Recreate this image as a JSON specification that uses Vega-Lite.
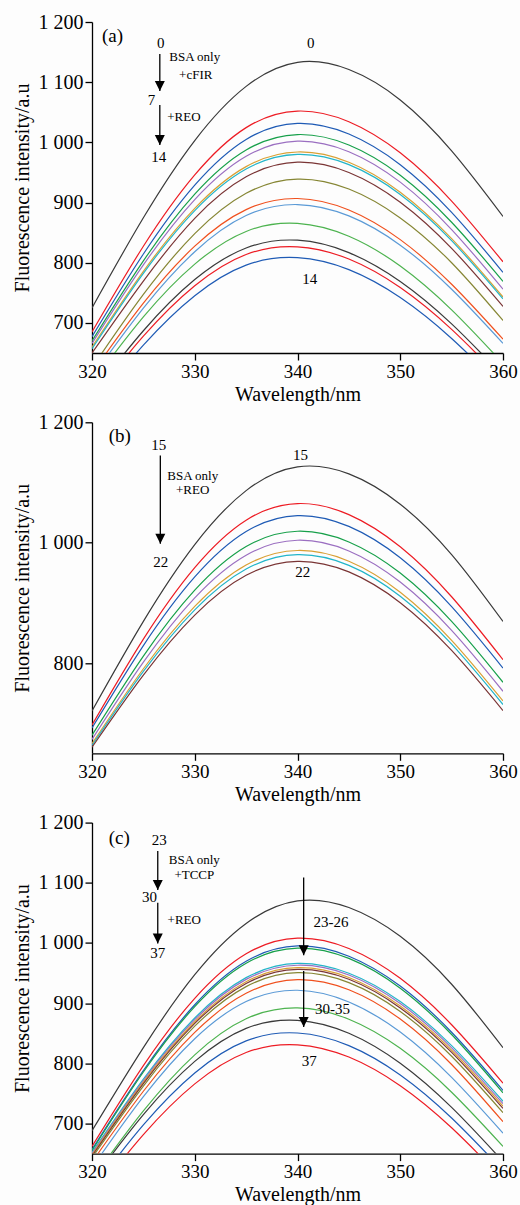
{
"$schema":"https://vega.github.io/schema/vega-lite/v6.json",
"background":"#fdfdfd",
"padding":{"left":12,"top":12,"right":2,"bottom":2},
"config":{"font":"Liberation Serif","view":{"stroke":null},
"axis":{"domainColor":"#000","domainWidth":1.3,"tickColor":"#000","tickWidth":1.3,"tickSize":7,"labelFont":"Liberation Serif","labelFontSize":19,"labelColor":"#000","labelPadding":2,"labelFlush":false,"labelOverlap":false,"titleFont":"Liberation Serif","titleFontSize":20,"titleFontWeight":"normal","titleColor":"#000","grid":false},
"axisY":{"labelFontSize":20},
"text":{"font":"Liberation Serif","color":"#000","align":"center","baseline":"middle"}},
"datasets":{
"spectra":[
{"panel":"a","curve":0,"wavelength":320,"intensity":725},{"panel":"a","curve":0,"wavelength":325,"intensity":874.7},{"panel":"a","curve":0,"wavelength":330,"intensity":1003},{"panel":"a","curve":0,"wavelength":335,"intensity":1093},{"panel":"a","curve":0,"wavelength":340,"intensity":1133},{"panel":"a","curve":0,"wavelength":345,"intensity":1121},{"panel":"a","curve":0,"wavelength":350,"intensity":1070.5},{"panel":"a","curve":0,"wavelength":355,"intensity":986},{"panel":"a","curve":0,"wavelength":360,"intensity":877},
{"panel":"a","curve":1,"wavelength":320,"intensity":685},{"panel":"a","curve":1,"wavelength":325,"intensity":827.4},{"panel":"a","curve":1,"wavelength":330,"intensity":945.9},{"panel":"a","curve":1,"wavelength":335,"intensity":1024.5},{"panel":"a","curve":1,"wavelength":340,"intensity":1052},{"panel":"a","curve":1,"wavelength":345,"intensity":1034.2},{"panel":"a","curve":1,"wavelength":350,"intensity":982.6},{"panel":"a","curve":1,"wavelength":355,"intensity":902.5},{"panel":"a","curve":1,"wavelength":360,"intensity":801.5},
{"panel":"a","curve":2,"wavelength":320,"intensity":677},{"panel":"a","curve":2,"wavelength":325,"intensity":814.5},{"panel":"a","curve":2,"wavelength":330,"intensity":929},{"panel":"a","curve":2,"wavelength":335,"intensity":1004.9},{"panel":"a","curve":2,"wavelength":340,"intensity":1031.5},{"panel":"a","curve":2,"wavelength":345,"intensity":1013.9},{"panel":"a","curve":2,"wavelength":350,"intensity":962.9},{"panel":"a","curve":2,"wavelength":355,"intensity":883.7},{"panel":"a","curve":2,"wavelength":360,"intensity":784},
{"panel":"a","curve":3,"wavelength":320,"intensity":670},{"panel":"a","curve":3,"wavelength":325,"intensity":803.1},{"panel":"a","curve":3,"wavelength":330,"intensity":913.9},{"panel":"a","curve":3,"wavelength":335,"intensity":987.3},{"panel":"a","curve":3,"wavelength":340,"intensity":1013},{"panel":"a","curve":3,"wavelength":345,"intensity":995.7},{"panel":"a","curve":3,"wavelength":350,"intensity":945.4},{"panel":"a","curve":3,"wavelength":355,"intensity":867.3},{"panel":"a","curve":3,"wavelength":360,"intensity":769},
{"panel":"a","curve":4,"wavelength":320,"intensity":666},{"panel":"a","curve":4,"wavelength":325,"intensity":796.4},{"panel":"a","curve":4,"wavelength":330,"intensity":904.9},{"panel":"a","curve":4,"wavelength":335,"intensity":976.8},{"panel":"a","curve":4,"wavelength":340,"intensity":1002},{"panel":"a","curve":4,"wavelength":345,"intensity":984.5},{"panel":"a","curve":4,"wavelength":350,"intensity":933.9},{"panel":"a","curve":4,"wavelength":355,"intensity":855.1},{"panel":"a","curve":4,"wavelength":360,"intensity":756},
{"panel":"a","curve":5,"wavelength":320,"intensity":660},{"panel":"a","curve":5,"wavelength":325,"intensity":785.7},{"panel":"a","curve":5,"wavelength":330,"intensity":890.4},{"panel":"a","curve":5,"wavelength":335,"intensity":959.7},{"panel":"a","curve":5,"wavelength":340,"intensity":984},{"panel":"a","curve":5,"wavelength":345,"intensity":966.9},{"panel":"a","curve":5,"wavelength":350,"intensity":917.2},{"panel":"a","curve":5,"wavelength":355,"intensity":840.1},{"panel":"a","curve":5,"wavelength":360,"intensity":743},
{"panel":"a","curve":6,"wavelength":320,"intensity":657},{"panel":"a","curve":6,"wavelength":325,"intensity":782.3},{"panel":"a","curve":6,"wavelength":330,"intensity":886.7},{"panel":"a","curve":6,"wavelength":335,"intensity":955.8},{"panel":"a","curve":6,"wavelength":340,"intensity":980},{"panel":"a","curve":6,"wavelength":345,"intensity":963},{"panel":"a","curve":6,"wavelength":350,"intensity":913.5},{"panel":"a","curve":6,"wavelength":355,"intensity":836.7},{"panel":"a","curve":6,"wavelength":360,"intensity":740},
{"panel":"a","curve":7,"wavelength":320,"intensity":650},{"panel":"a","curve":7,"wavelength":325,"intensity":769.6},{"panel":"a","curve":7,"wavelength":330,"intensity":873.7},{"panel":"a","curve":7,"wavelength":335,"intensity":942.7},{"panel":"a","curve":7,"wavelength":340,"intensity":967},{"panel":"a","curve":7,"wavelength":345,"intensity":950},{"panel":"a","curve":7,"wavelength":350,"intensity":900.6},{"panel":"a","curve":7,"wavelength":355,"intensity":823.9},{"panel":"a","curve":7,"wavelength":360,"intensity":727.4},
{"panel":"a","curve":8,"wavelength":320,"intensity":625.7},{"panel":"a","curve":8,"wavelength":325,"intensity":747.3},{"panel":"a","curve":8,"wavelength":330,"intensity":848.4},{"panel":"a","curve":8,"wavelength":335,"intensity":915.4},{"panel":"a","curve":8,"wavelength":340,"intensity":939},{"panel":"a","curve":8,"wavelength":345,"intensity":922.5},{"panel":"a","curve":8,"wavelength":350,"intensity":874.5},{"panel":"a","curve":8,"wavelength":355,"intensity":800},{"panel":"a","curve":8,"wavelength":360,"intensity":704},
{"panel":"a","curve":9,"wavelength":320,"intensity":616.7},{"panel":"a","curve":9,"wavelength":325,"intensity":732.7},{"panel":"a","curve":9,"wavelength":330,"intensity":827.5},{"panel":"a","curve":9,"wavelength":335,"intensity":888.3},{"panel":"a","curve":9,"wavelength":340,"intensity":906.7},{"panel":"a","curve":9,"wavelength":345,"intensity":887.6},{"panel":"a","curve":9,"wavelength":350,"intensity":838.4},{"panel":"a","curve":9,"wavelength":355,"intensity":764.3},{"panel":"a","curve":9,"wavelength":360,"intensity":673},
{"panel":"a","curve":10,"wavelength":320,"intensity":609.9},{"panel":"a","curve":10,"wavelength":325,"intensity":724.6},{"panel":"a","curve":10,"wavelength":330,"intensity":818.3},{"panel":"a","curve":10,"wavelength":335,"intensity":878.5},{"panel":"a","curve":10,"wavelength":340,"intensity":896.7},{"panel":"a","curve":10,"wavelength":345,"intensity":877.8},{"panel":"a","curve":10,"wavelength":350,"intensity":829.2},{"panel":"a","curve":10,"wavelength":355,"intensity":755.9},{"panel":"a","curve":10,"wavelength":360,"intensity":666},
{"panel":"a","curve":11,"wavelength":320,"intensity":600},{"panel":"a","curve":11,"wavelength":325,"intensity":710},{"panel":"a","curve":11,"wavelength":330,"intensity":797.7},{"panel":"a","curve":11,"wavelength":335,"intensity":852},{"panel":"a","curve":11,"wavelength":340,"intensity":865.4},{"panel":"a","curve":11,"wavelength":345,"intensity":844},{"panel":"a","curve":11,"wavelength":350,"intensity":794.5},{"panel":"a","curve":11,"wavelength":355,"intensity":721.7},{"panel":"a","curve":11,"wavelength":360,"intensity":632.6},
{"panel":"a","curve":12,"wavelength":320,"intensity":581},{"panel":"a","curve":12,"wavelength":325,"intensity":687},{"panel":"a","curve":12,"wavelength":330,"intensity":772},{"panel":"a","curve":12,"wavelength":335,"intensity":824.5},{"panel":"a","curve":12,"wavelength":340,"intensity":837.4},{"panel":"a","curve":12,"wavelength":345,"intensity":816.8},{"panel":"a","curve":12,"wavelength":350,"intensity":768.8},{"panel":"a","curve":12,"wavelength":355,"intensity":698.4},{"panel":"a","curve":12,"wavelength":360,"intensity":612},
{"panel":"a","curve":13,"wavelength":320,"intensity":573.4},{"panel":"a","curve":13,"wavelength":325,"intensity":677.9},{"panel":"a","curve":13,"wavelength":330,"intensity":761.7},{"panel":"a","curve":13,"wavelength":335,"intensity":813.7},{"panel":"a","curve":13,"wavelength":340,"intensity":826.4},{"panel":"a","curve":13,"wavelength":345,"intensity":806.1},{"panel":"a","curve":13,"wavelength":350,"intensity":758.7},{"panel":"a","curve":13,"wavelength":355,"intensity":689.2},{"panel":"a","curve":13,"wavelength":360,"intensity":604.1},
{"panel":"a","curve":14,"wavelength":320,"intensity":560.9},{"panel":"a","curve":14,"wavelength":325,"intensity":663.1},{"panel":"a","curve":14,"wavelength":330,"intensity":745.2},{"panel":"a","curve":14,"wavelength":335,"intensity":796},{"panel":"a","curve":14,"wavelength":340,"intensity":808.4},{"panel":"a","curve":14,"wavelength":345,"intensity":788.5},{"panel":"a","curve":14,"wavelength":350,"intensity":742.2},{"panel":"a","curve":14,"wavelength":355,"intensity":674.2},{"panel":"a","curve":14,"wavelength":360,"intensity":591},
{"panel":"b","curve":15,"wavelength":320,"intensity":720.5},{"panel":"b","curve":15,"wavelength":325,"intensity":869.3},{"panel":"b","curve":15,"wavelength":330,"intensity":996.8},{"panel":"b","curve":15,"wavelength":335,"intensity":1086.5},{"panel":"b","curve":15,"wavelength":340,"intensity":1125.9},{"panel":"b","curve":15,"wavelength":345,"intensity":1114.3},{"panel":"b","curve":15,"wavelength":350,"intensity":1063.9},{"panel":"b","curve":15,"wavelength":355,"intensity":980.2},{"panel":"b","curve":15,"wavelength":360,"intensity":869},
{"panel":"b","curve":16,"wavelength":320,"intensity":697},{"panel":"b","curve":16,"wavelength":325,"intensity":839.8},{"panel":"b","curve":16,"wavelength":330,"intensity":958.6},{"panel":"b","curve":16,"wavelength":335,"intensity":1037.4},{"panel":"b","curve":16,"wavelength":340,"intensity":1065},{"panel":"b","curve":16,"wavelength":345,"intensity":1046.6},{"panel":"b","curve":16,"wavelength":350,"intensity":993.1},{"panel":"b","curve":16,"wavelength":355,"intensity":910.1},{"panel":"b","curve":16,"wavelength":360,"intensity":805.5},
{"panel":"b","curve":17,"wavelength":320,"intensity":692},{"panel":"b","curve":17,"wavelength":325,"intensity":829},{"panel":"b","curve":17,"wavelength":330,"intensity":943},{"panel":"b","curve":17,"wavelength":335,"intensity":1018.5},{"panel":"b","curve":17,"wavelength":340,"intensity":1045},{"panel":"b","curve":17,"wavelength":345,"intensity":1027},{"panel":"b","curve":17,"wavelength":350,"intensity":974.8},{"panel":"b","curve":17,"wavelength":355,"intensity":893.7},{"panel":"b","curve":17,"wavelength":360,"intensity":791.6},
{"panel":"b","curve":18,"wavelength":320,"intensity":680},{"panel":"b","curve":18,"wavelength":325,"intensity":811.5},{"panel":"b","curve":18,"wavelength":330,"intensity":921},{"panel":"b","curve":18,"wavelength":335,"intensity":993.6},{"panel":"b","curve":18,"wavelength":340,"intensity":1019},{"panel":"b","curve":18,"wavelength":345,"intensity":1001.2},{"panel":"b","curve":18,"wavelength":350,"intensity":949.5},{"panel":"b","curve":18,"wavelength":355,"intensity":869.2},{"panel":"b","curve":18,"wavelength":360,"intensity":768},
{"panel":"b","curve":19,"wavelength":320,"intensity":673},{"panel":"b","curve":19,"wavelength":325,"intensity":801.4},{"panel":"b","curve":19,"wavelength":330,"intensity":908.3},{"panel":"b","curve":19,"wavelength":335,"intensity":979.2},{"panel":"b","curve":19,"wavelength":340,"intensity":1004},{"panel":"b","curve":19,"wavelength":345,"intensity":986.2},{"panel":"b","curve":19,"wavelength":350,"intensity":934.5},{"panel":"b","curve":19,"wavelength":355,"intensity":854.2},{"panel":"b","curve":19,"wavelength":360,"intensity":753},
{"panel":"b","curve":20,"wavelength":320,"intensity":666},{"panel":"b","curve":20,"wavelength":325,"intensity":790.5},{"panel":"b","curve":20,"wavelength":330,"intensity":894.2},{"panel":"b","curve":20,"wavelength":335,"intensity":962.9},{"panel":"b","curve":20,"wavelength":340,"intensity":987},{"panel":"b","curve":20,"wavelength":345,"intensity":969.2},{"panel":"b","curve":20,"wavelength":350,"intensity":917.7},{"panel":"b","curve":20,"wavelength":355,"intensity":837.7},{"panel":"b","curve":20,"wavelength":360,"intensity":737},
{"panel":"b","curve":21,"wavelength":320,"intensity":663},{"panel":"b","curve":21,"wavelength":325,"intensity":786},{"panel":"b","curve":21,"wavelength":330,"intensity":888.4},{"panel":"b","curve":21,"wavelength":335,"intensity":956.2},{"panel":"b","curve":21,"wavelength":340,"intensity":980},{"panel":"b","curve":21,"wavelength":345,"intensity":962.3},{"panel":"b","curve":21,"wavelength":350,"intensity":911},{"panel":"b","curve":21,"wavelength":355,"intensity":831.3},{"panel":"b","curve":21,"wavelength":360,"intensity":731},
{"panel":"b","curve":22,"wavelength":320,"intensity":660},{"panel":"b","curve":22,"wavelength":325,"intensity":779.9},{"panel":"b","curve":22,"wavelength":330,"intensity":879.7},{"panel":"b","curve":22,"wavelength":335,"intensity":945.8},{"panel":"b","curve":22,"wavelength":340,"intensity":969},{"panel":"b","curve":22,"wavelength":345,"intensity":951.4},{"panel":"b","curve":22,"wavelength":350,"intensity":900.3},{"panel":"b","curve":22,"wavelength":355,"intensity":820.9},{"panel":"b","curve":22,"wavelength":360,"intensity":721},
{"panel":"c","curve":23,"wavelength":320,"intensity":688},{"panel":"c","curve":23,"wavelength":325,"intensity":826.1},{"panel":"c","curve":23,"wavelength":330,"intensity":947.3},{"panel":"c","curve":23,"wavelength":335,"intensity":1032.5},{"panel":"c","curve":23,"wavelength":340,"intensity":1069.9},{"panel":"c","curve":23,"wavelength":345,"intensity":1058.9},{"panel":"c","curve":23,"wavelength":350,"intensity":1011},{"panel":"c","curve":23,"wavelength":355,"intensity":931.4},{"panel":"c","curve":23,"wavelength":360,"intensity":826},
{"panel":"c","curve":24,"wavelength":320,"intensity":662},{"panel":"c","curve":24,"wavelength":325,"intensity":796.2},{"panel":"c","curve":24,"wavelength":330,"intensity":908},{"panel":"c","curve":24,"wavelength":335,"intensity":982},{"panel":"c","curve":24,"wavelength":340,"intensity":1008},{"panel":"c","curve":24,"wavelength":345,"intensity":990.9},{"panel":"c","curve":24,"wavelength":350,"intensity":941.2},{"panel":"c","curve":24,"wavelength":355,"intensity":864.1},{"panel":"c","curve":24,"wavelength":360,"intensity":767},
{"panel":"c","curve":25,"wavelength":320,"intensity":657},{"panel":"c","curve":25,"wavelength":325,"intensity":788.1},{"panel":"c","curve":25,"wavelength":330,"intensity":897.3},{"panel":"c","curve":25,"wavelength":335,"intensity":969.6},{"panel":"c","curve":25,"wavelength":340,"intensity":995},{"panel":"c","curve":25,"wavelength":345,"intensity":978},{"panel":"c","curve":25,"wavelength":350,"intensity":928.5},{"panel":"c","curve":25,"wavelength":355,"intensity":851.7},{"panel":"c","curve":25,"wavelength":360,"intensity":755},
{"panel":"c","curve":26,"wavelength":320,"intensity":655},{"panel":"c","curve":26,"wavelength":325,"intensity":785.6},{"panel":"c","curve":26,"wavelength":330,"intensity":894.3},{"panel":"c","curve":26,"wavelength":335,"intensity":966.3},{"panel":"c","curve":26,"wavelength":340,"intensity":991.5},{"panel":"c","curve":26,"wavelength":345,"intensity":974.4},{"panel":"c","curve":26,"wavelength":350,"intensity":924.9},{"panel":"c","curve":26,"wavelength":355,"intensity":847.9},{"panel":"c","curve":26,"wavelength":360,"intensity":751},
{"panel":"c","curve":27,"wavelength":320,"intensity":652},{"panel":"c","curve":27,"wavelength":325,"intensity":773.8},{"panel":"c","curve":27,"wavelength":330,"intensity":875.3},{"panel":"c","curve":27,"wavelength":335,"intensity":942.4},{"panel":"c","curve":27,"wavelength":340,"intensity":966},{"panel":"c","curve":27,"wavelength":345,"intensity":949.7},{"panel":"c","curve":27,"wavelength":350,"intensity":902.6},{"panel":"c","curve":27,"wavelength":355,"intensity":829.3},{"panel":"c","curve":27,"wavelength":360,"intensity":737},
{"panel":"c","curve":28,"wavelength":320,"intensity":650},{"panel":"c","curve":28,"wavelength":325,"intensity":771.4},{"panel":"c","curve":28,"wavelength":330,"intensity":872.5},{"panel":"c","curve":28,"wavelength":335,"intensity":939.5},{"panel":"c","curve":28,"wavelength":340,"intensity":963},{"panel":"c","curve":28,"wavelength":345,"intensity":946.7},{"panel":"c","curve":28,"wavelength":350,"intensity":899.3},{"panel":"c","curve":28,"wavelength":355,"intensity":825.7},{"panel":"c","curve":28,"wavelength":360,"intensity":733},
{"panel":"c","curve":29,"wavelength":320,"intensity":648},{"panel":"c","curve":29,"wavelength":325,"intensity":768.7},{"panel":"c","curve":29,"wavelength":330,"intensity":869.1},{"panel":"c","curve":29,"wavelength":335,"intensity":935.7},{"panel":"c","curve":29,"wavelength":340,"intensity":959},{"panel":"c","curve":29,"wavelength":345,"intensity":942.7},{"panel":"c","curve":29,"wavelength":350,"intensity":895.3},{"panel":"c","curve":29,"wavelength":355,"intensity":821.7},{"panel":"c","curve":29,"wavelength":360,"intensity":729},
{"panel":"c","curve":30,"wavelength":320,"intensity":646},{"panel":"c","curve":30,"wavelength":325,"intensity":766.3},{"panel":"c","curve":30,"wavelength":330,"intensity":866.4},{"panel":"c","curve":30,"wavelength":335,"intensity":932.7},{"panel":"c","curve":30,"wavelength":340,"intensity":956},{"panel":"c","curve":30,"wavelength":345,"intensity":939.6},{"panel":"c","curve":30,"wavelength":350,"intensity":892},{"panel":"c","curve":30,"wavelength":355,"intensity":818.1},{"panel":"c","curve":30,"wavelength":360,"intensity":725},
{"panel":"c","curve":31,"wavelength":320,"intensity":643},{"panel":"c","curve":31,"wavelength":325,"intensity":762.3},{"panel":"c","curve":31,"wavelength":330,"intensity":861.7},{"panel":"c","curve":31,"wavelength":335,"intensity":927.5},{"panel":"c","curve":31,"wavelength":340,"intensity":950.6},{"panel":"c","curve":31,"wavelength":345,"intensity":934.1},{"panel":"c","curve":31,"wavelength":350,"intensity":886.2},{"panel":"c","curve":31,"wavelength":355,"intensity":811.7},{"panel":"c","curve":31,"wavelength":360,"intensity":718},
{"panel":"c","curve":32,"wavelength":320,"intensity":636},{"panel":"c","curve":32,"wavelength":325,"intensity":753.6},{"panel":"c","curve":32,"wavelength":330,"intensity":851.4},{"panel":"c","curve":32,"wavelength":335,"intensity":916.3},{"panel":"c","curve":32,"wavelength":340,"intensity":939},{"panel":"c","curve":32,"wavelength":345,"intensity":922.2},{"panel":"c","curve":32,"wavelength":350,"intensity":873.6},{"panel":"c","curve":32,"wavelength":355,"intensity":798.1},{"panel":"c","curve":32,"wavelength":360,"intensity":703},
{"panel":"c","curve":33,"wavelength":320,"intensity":626.7},{"panel":"c","curve":33,"wavelength":325,"intensity":744.6},{"panel":"c","curve":33,"wavelength":330,"intensity":840.9},{"panel":"c","curve":33,"wavelength":335,"intensity":902.7},{"panel":"c","curve":33,"wavelength":340,"intensity":921.4},{"panel":"c","curve":33,"wavelength":345,"intensity":902},{"panel":"c","curve":33,"wavelength":350,"intensity":852},{"panel":"c","curve":33,"wavelength":355,"intensity":776.7},{"panel":"c","curve":33,"wavelength":360,"intensity":684},
{"panel":"c","curve":34,"wavelength":320,"intensity":606.7},{"panel":"c","curve":34,"wavelength":325,"intensity":720.9},{"panel":"c","curve":34,"wavelength":330,"intensity":814.1},{"panel":"c","curve":34,"wavelength":335,"intensity":874},{"panel":"c","curve":34,"wavelength":340,"intensity":892.1},{"panel":"c","curve":34,"wavelength":345,"intensity":873.3},{"panel":"c","curve":34,"wavelength":350,"intensity":824.9},{"panel":"c","curve":34,"wavelength":355,"intensity":752},{"panel":"c","curve":34,"wavelength":360,"intensity":662},
{"panel":"c","curve":35,"wavelength":320,"intensity":604.6},{"panel":"c","curve":35,"wavelength":325,"intensity":714.8},{"panel":"c","curve":35,"wavelength":330,"intensity":803.2},{"panel":"c","curve":35,"wavelength":335,"intensity":858},{"panel":"c","curve":35,"wavelength":340,"intensity":871.4},{"panel":"c","curve":35,"wavelength":345,"intensity":849.9},{"panel":"c","curve":35,"wavelength":350,"intensity":800},{"panel":"c","curve":35,"wavelength":355,"intensity":726.7},{"panel":"c","curve":35,"wavelength":360,"intensity":637},
{"panel":"c","curve":36,"wavelength":320,"intensity":590},{"panel":"c","curve":36,"wavelength":325,"intensity":697.6},{"panel":"c","curve":36,"wavelength":330,"intensity":783.9},{"panel":"c","curve":36,"wavelength":335,"intensity":837.3},{"panel":"c","curve":36,"wavelength":340,"intensity":850.4},{"panel":"c","curve":36,"wavelength":345,"intensity":829.5},{"panel":"c","curve":36,"wavelength":350,"intensity":780.7},{"panel":"c","curve":36,"wavelength":355,"intensity":709.2},{"panel":"c","curve":36,"wavelength":360,"intensity":621.7},
{"panel":"c","curve":37,"wavelength":320,"intensity":576.4},{"panel":"c","curve":37,"wavelength":325,"intensity":681.5},{"panel":"c","curve":37,"wavelength":330,"intensity":765.8},{"panel":"c","curve":37,"wavelength":335,"intensity":818},{"panel":"c","curve":37,"wavelength":340,"intensity":830.8},{"panel":"c","curve":37,"wavelength":345,"intensity":810.4},{"panel":"c","curve":37,"wavelength":350,"intensity":762.7},{"panel":"c","curve":37,"wavelength":355,"intensity":692.9},{"panel":"c","curve":37,"wavelength":360,"intensity":607.3}
],
"notes":[
{"panel":"a","kind":"big","wavelength":322.0,"intensity":1176.7,"text":"(a)"},
{"panel":"a","kind":"num","wavelength":326.7,"intensity":1165,"text":"0"},
{"panel":"a","kind":"num","wavelength":325.8,"intensity":1070.3,"text":"7"},
{"panel":"a","kind":"num","wavelength":326.5,"intensity":975.6,"text":"14"},
{"panel":"a","kind":"note","wavelength":330.0,"intensity":1141.8,"text":"BSA only"},
{"panel":"a","kind":"note","wavelength":330.1,"intensity":1111.9,"text":"+cFIR"},
{"panel":"a","kind":"note","wavelength":328.95,"intensity":1042,"text":"+REO"},
{"panel":"a","kind":"num","wavelength":341.3,"intensity":1165,"text":"0"},
{"panel":"a","kind":"num","wavelength":341.2,"intensity":772.7,"text":"14"},
{"panel":"b","kind":"big","wavelength":322.7,"intensity":1176.7,"text":"(b)"},
{"panel":"b","kind":"num","wavelength":326.5,"intensity":1162.3,"text":"15"},
{"panel":"b","kind":"num","wavelength":326.7,"intensity":967.8,"text":"22"},
{"panel":"b","kind":"note","wavelength":329.8,"intensity":1110.8,"text":"BSA only"},
{"panel":"b","kind":"note","wavelength":329.8,"intensity":1087,"text":"+REO"},
{"panel":"b","kind":"num","wavelength":340.3,"intensity":1145,"text":"15"},
{"panel":"b","kind":"num","wavelength":340.5,"intensity":951.2,"text":"22"},
{"panel":"c","kind":"big","wavelength":322.66,"intensity":1175,"text":"(c)"},
{"panel":"c","kind":"num","wavelength":326.55,"intensity":1171,"text":"23"},
{"panel":"c","kind":"num","wavelength":325.6,"intensity":1077,"text":"30"},
{"panel":"c","kind":"num","wavelength":326.4,"intensity":982.7,"text":"37"},
{"panel":"c","kind":"note","wavelength":329.96,"intensity":1137.8,"text":"BSA only"},
{"panel":"c","kind":"note","wavelength":329.96,"intensity":1112.9,"text":"+TCCP"},
{"panel":"c","kind":"note","wavelength":328.98,"intensity":1038,"text":"+REO"},
{"panel":"c","kind":"num","wavelength":343.26,"intensity":1034.8,"text":"23-26"},
{"panel":"c","kind":"num","wavelength":343.4,"intensity":889.6,"text":"30-35"},
{"panel":"c","kind":"num","wavelength":341.15,"intensity":803.7,"text":"37"}
],
"arrows":[
{"panel":"a","wavelength":326.6,"intensity":1146.8,"tip":1085.3},
{"panel":"a","wavelength":326.6,"intensity":1062,"tip":995.5},
{"panel":"b","wavelength":326.65,"intensity":1145,"tip":998.3},
{"panel":"c","wavelength":326.4,"intensity":1152.8,"tip":1088},
{"panel":"c","wavelength":326.4,"intensity":1067,"tip":999.3},
{"panel":"c","wavelength":340.6,"intensity":1108.6,"tip":979.4},
{"panel":"c","wavelength":340.6,"intensity":953.3,"tip":860.2}
]
},
"vconcat":[
{"width":411,"height":331,
"encoding":{
"x":{"field":"wavelength","type":"quantitative","title":"Wavelength/nm","scale":{"domain":[320,360],"nice":false},"axis":{"values":[320,330,340,350,360],"titlePadding":3}},
"y":{"field":"intensity","type":"quantitative","title":"Fluorescence intensity/a.u","scale":{"domain":[650,1200],"nice":false,"zero":false},"axis":{"values":[700,800,900,1000,1100,1200],"labelExpr":"replace(format(datum.value, ','), ',', ' ')","titlePadding":6}}},
"layer":[
{"data":{"name":"spectra"},"transform":[{"filter":"datum.panel === 'a'"}],"mark":{"type":"line","interpolate":"natural","strokeWidth":1.2,"clip":true},
"encoding":{"color":{"field":"curve","type":"nominal","legend":null,"scale":{"domain":[0,1,2,3,4,5,6,7,8,9,10,11,12,13,14,15,16,17,18,19,20,21,22,23,24,25,26,27,28,29,30,31,32,33,34,35,36,37],"range":["#3a3a3a","#ed1c24","#1f5bb5","#17a04a","#9b6fc1","#d9a035","#23b5c9","#7a3535","#868634","#f0501e","#5b9ad6","#4db34f","#3a3a3a","#ed1c24","#1f5bb5","#3a3a3a","#ed1c24","#1f5bb5","#17a04a","#9b6fc1","#d9a035","#23b5c9","#7a3535","#3a3a3a","#ed1c24","#1f5bb5","#17a04a","#23b5c9","#9b6fc1","#d9a035","#7a3535","#868634","#f0501e","#5b9ad6","#4db34f","#3a3a3a","#1f5bb5","#ed1c24"]}}}},
{"data":{"name":"arrows"},"transform":[{"filter":"datum.panel === 'a'"}],"mark":{"type":"rule","color":"#000","strokeWidth":1.3},"encoding":{"y2":{"field":"tip"}}},
{"data":{"name":"arrows"},"transform":[{"filter":"datum.panel === 'a'"}],"mark":{"type":"point","shape":"M-1,-2L1,-2L0,0Z","size":100,"filled":true,"color":"#000","opacity":1},"encoding":{"y":{"field":"tip","type":"quantitative","title":"Fluorescence intensity/a.u"}}},
{"data":{"name":"notes"},"transform":[{"filter":"datum.panel === 'a' && datum.kind === 'big'"}],"mark":{"type":"text","fontSize":19},"encoding":{"text":{"field":"text"}}},
{"data":{"name":"notes"},"transform":[{"filter":"datum.panel === 'a' && datum.kind === 'num'"}],"mark":{"type":"text","fontSize":15},"encoding":{"text":{"field":"text"}}},
{"data":{"name":"notes"},"transform":[{"filter":"datum.panel === 'a' && datum.kind === 'note'"}],"mark":{"type":"text","fontSize":13},"encoding":{"text":{"field":"text"}}}
]},
{"width":411,"height":331,
"encoding":{
"x":{"field":"wavelength","type":"quantitative","title":"Wavelength/nm","scale":{"domain":[320,360],"nice":false},"axis":{"values":[320,330,340,350,360],"titlePadding":3}},
"y":{"field":"intensity","type":"quantitative","title":"Fluorescence intensity/a.u","scale":{"domain":[650,1200],"nice":false,"zero":false},"axis":{"values":[800,1000,1200],"labelExpr":"replace(format(datum.value, ','), ',', ' ')","titlePadding":6}}},
"layer":[
{"data":{"name":"spectra"},"transform":[{"filter":"datum.panel === 'b'"}],"mark":{"type":"line","interpolate":"natural","strokeWidth":1.2,"clip":true},
"encoding":{"color":{"field":"curve","type":"nominal","legend":null,"scale":{"domain":[0,1,2,3,4,5,6,7,8,9,10,11,12,13,14,15,16,17,18,19,20,21,22,23,24,25,26,27,28,29,30,31,32,33,34,35,36,37],"range":["#3a3a3a","#ed1c24","#1f5bb5","#17a04a","#9b6fc1","#d9a035","#23b5c9","#7a3535","#868634","#f0501e","#5b9ad6","#4db34f","#3a3a3a","#ed1c24","#1f5bb5","#3a3a3a","#ed1c24","#1f5bb5","#17a04a","#9b6fc1","#d9a035","#23b5c9","#7a3535","#3a3a3a","#ed1c24","#1f5bb5","#17a04a","#23b5c9","#9b6fc1","#d9a035","#7a3535","#868634","#f0501e","#5b9ad6","#4db34f","#3a3a3a","#1f5bb5","#ed1c24"]}}}},
{"data":{"name":"arrows"},"transform":[{"filter":"datum.panel === 'b'"}],"mark":{"type":"rule","color":"#000","strokeWidth":1.3},"encoding":{"y2":{"field":"tip"}}},
{"data":{"name":"arrows"},"transform":[{"filter":"datum.panel === 'b'"}],"mark":{"type":"point","shape":"M-1,-2L1,-2L0,0Z","size":100,"filled":true,"color":"#000","opacity":1},"encoding":{"y":{"field":"tip","type":"quantitative","title":"Fluorescence intensity/a.u"}}},
{"data":{"name":"notes"},"transform":[{"filter":"datum.panel === 'b' && datum.kind === 'big'"}],"mark":{"type":"text","fontSize":19},"encoding":{"text":{"field":"text"}}},
{"data":{"name":"notes"},"transform":[{"filter":"datum.panel === 'b' && datum.kind === 'num'"}],"mark":{"type":"text","fontSize":15},"encoding":{"text":{"field":"text"}}},
{"data":{"name":"notes"},"transform":[{"filter":"datum.panel === 'b' && datum.kind === 'note'"}],"mark":{"type":"text","fontSize":13},"encoding":{"text":{"field":"text"}}}
]},
{"width":411,"height":331,
"encoding":{
"x":{"field":"wavelength","type":"quantitative","title":"Wavelength/nm","scale":{"domain":[320,360],"nice":false},"axis":{"values":[320,330,340,350,360],"titlePadding":3}},
"y":{"field":"intensity","type":"quantitative","title":"Fluorescence intensity/a.u","scale":{"domain":[650,1200],"nice":false,"zero":false},"axis":{"values":[700,800,900,1000,1100,1200],"labelExpr":"replace(format(datum.value, ','), ',', ' ')","titlePadding":6}}},
"layer":[
{"data":{"name":"spectra"},"transform":[{"filter":"datum.panel === 'c'"}],"mark":{"type":"line","interpolate":"natural","strokeWidth":1.2,"clip":true},
"encoding":{"color":{"field":"curve","type":"nominal","legend":null,"scale":{"domain":[0,1,2,3,4,5,6,7,8,9,10,11,12,13,14,15,16,17,18,19,20,21,22,23,24,25,26,27,28,29,30,31,32,33,34,35,36,37],"range":["#3a3a3a","#ed1c24","#1f5bb5","#17a04a","#9b6fc1","#d9a035","#23b5c9","#7a3535","#868634","#f0501e","#5b9ad6","#4db34f","#3a3a3a","#ed1c24","#1f5bb5","#3a3a3a","#ed1c24","#1f5bb5","#17a04a","#9b6fc1","#d9a035","#23b5c9","#7a3535","#3a3a3a","#ed1c24","#1f5bb5","#17a04a","#23b5c9","#9b6fc1","#d9a035","#7a3535","#868634","#f0501e","#5b9ad6","#4db34f","#3a3a3a","#1f5bb5","#ed1c24"]}}}},
{"data":{"name":"arrows"},"transform":[{"filter":"datum.panel === 'c'"}],"mark":{"type":"rule","color":"#000","strokeWidth":1.3},"encoding":{"y2":{"field":"tip"}}},
{"data":{"name":"arrows"},"transform":[{"filter":"datum.panel === 'c'"}],"mark":{"type":"point","shape":"M-1,-2L1,-2L0,0Z","size":100,"filled":true,"color":"#000","opacity":1},"encoding":{"y":{"field":"tip","type":"quantitative","title":"Fluorescence intensity/a.u"}}},
{"data":{"name":"notes"},"transform":[{"filter":"datum.panel === 'c' && datum.kind === 'big'"}],"mark":{"type":"text","fontSize":19},"encoding":{"text":{"field":"text"}}},
{"data":{"name":"notes"},"transform":[{"filter":"datum.panel === 'c' && datum.kind === 'num'"}],"mark":{"type":"text","fontSize":15},"encoding":{"text":{"field":"text"}}},
{"data":{"name":"notes"},"transform":[{"filter":"datum.panel === 'c' && datum.kind === 'note'"}],"mark":{"type":"text","fontSize":13},"encoding":{"text":{"field":"text"}}}
]}
],
"spacing":69.3,
"bounds":"flush"
}
